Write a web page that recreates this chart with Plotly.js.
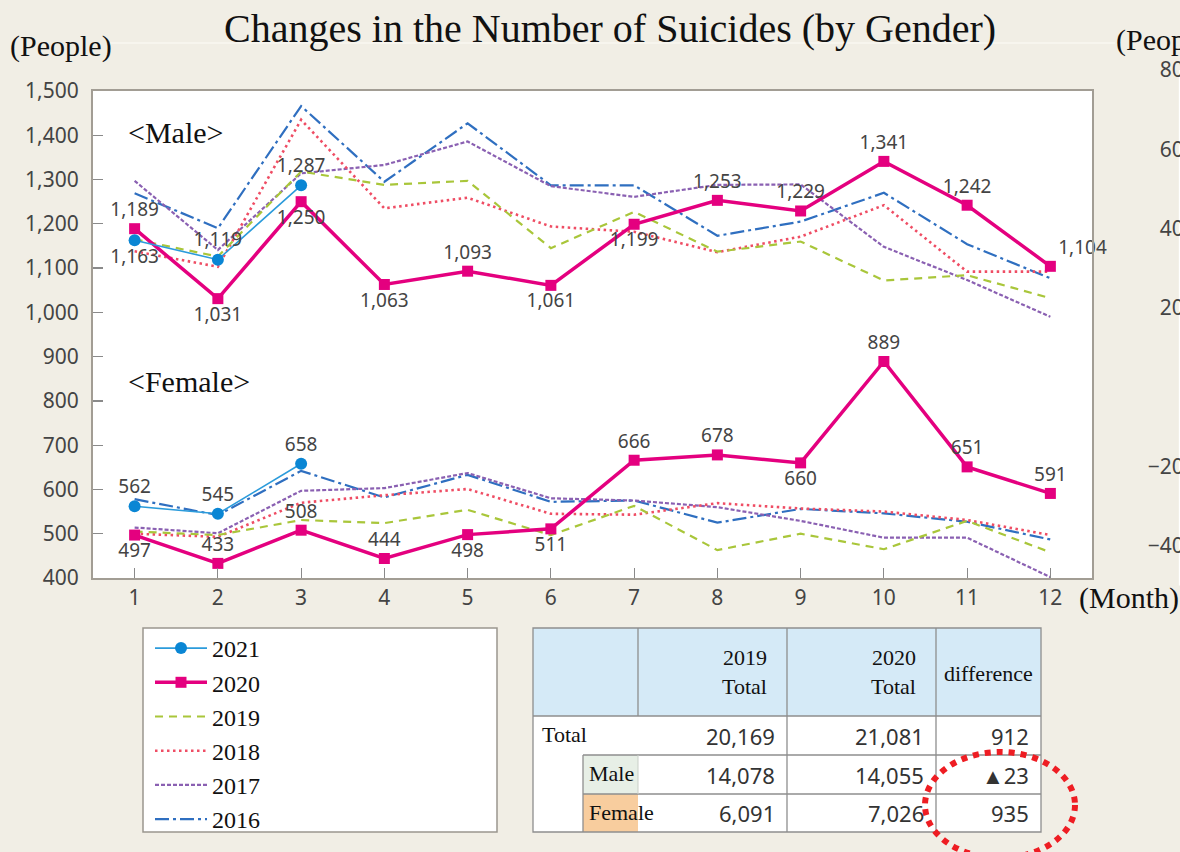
<!DOCTYPE html>
<html><head><meta charset="utf-8">
<script src="https://cdn.plot.ly/plotly-3.0.1.min.js"></script>
<style>html,body{margin:0;padding:0;background:#f1eee5;} #chart{width:1180px;height:852px;}</style>
</head><body><div id="chart"></div>
<script>
// ---------- data ----------
const months = [1,2,3,4,5,6,7,8,9,10,11,12];
const monthsQ1 = [1,2,3];

const male2021 = [1163,1119,1287];
const male2020 = [1189,1031,1250,1063,1093,1061,1199,1253,1229,1341,1242,1104];
const male2019 = [1165,1126,1318,1288,1297,1145,1227,1137,1160,1072,1084,1032];
const male2018 = [1138,1103,1435,1235,1259,1194,1182,1136,1171,1242,1092,1092];
const male2017 = [1297,1141,1314,1333,1386,1285,1261,1288,1289,1148,1073,990];
const male2016 = [1269,1190,1466,1295,1427,1287,1287,1173,1205,1270,1154,1077];

const female2021 = [562,545,658];
const female2020 = [497,433,508,444,498,511,666,678,660,889,651,591];
const female2019 = [505,497,531,524,554,497,563,463,500,465,529,458];
const female2018 = [500,493,570,587,601,545,543,569,557,550,531,497];
const female2017 = [514,501,597,603,637,580,575,560,529,491,491,402];
const female2016 = [578,542,642,582,633,572,575,525,556,546,527,487];

const rightAxisTicks = [80,60,40,20,-20,-40];

const tableHeaders = ['2019<br>Total','2020<br>Total','difference'];
const tableRowLabels = ['Total','Male','Female'];
const total2019 = [20169,14078,6091];
const total2020 = [21081,14055,7026];
const diffValues = [912,-23,935];

// ---------- styles ----------
const W = 1180, H = 852;
const px = x => x / W;
const py = y => 1 - y / H;
const SERIF = '"Liberation Serif","Times New Roman",serif';
const SANS = '"Noto Sans","Open Sans",sans-serif';
const LBL = '#444';

const male2020Pos = ['top center','bottom center','bottom center','bottom center','top center','bottom center','bottom center','top center','top center','top center','top center','top right'];
const male2021Pos = ['bottom center','top center','top center'];
const female2020Pos = ['bottom center','top center','top center','top center','bottom center','bottom center','top center','top center','bottom center','top center','top center','top center'];
const female2021Pos = ['top center','top center','top center'];

const oldYears = [
  {name:'2016', m:male2016, f:female2016, color:'#2f6fc0', width:2.2, dash:'14px,4px,3px,4px', rank:6},
  {name:'2017', m:male2017, f:female2017, color:'#8a60b2', width:2.2, dash:'4px,2px', rank:5},
  {name:'2018', m:male2018, f:female2018, color:'#ef4d64', width:2.6, dash:'2.5px,3.5px', rank:4},
  {name:'2019', m:male2019, f:female2019, color:'#a9c63a', width:2.2, dash:'8px,6px', rank:3}
];

const traces = [];
oldYears.forEach(s => {
  [['m', true], ['f', false]].forEach(([k, show]) => {
    traces.push({
      type:'scatter', mode:'lines', x:months, y:s[k], name:s.name,
      legendgroup:s.name, showlegend:show, legendrank:s.rank,
      line:{color:s.color, width:s.width, dash:s.dash}, hoverinfo:'skip'
    });
  });
});

[[male2020, male2020Pos, true], [female2020, female2020Pos, false]].forEach(([vals, pos, show]) => {
  traces.push({
    type:'scatter', mode:'lines+markers+text', x:months, y:vals, name:'2020',
    legendgroup:'2020', showlegend:show, legendrank:2,
    line:{color:'#e4007f', width:3.5},
    marker:{symbol:'square', size:11, color:'#e4007f'},
    texttemplate:'%{y:,}', textposition:pos, cliponaxis:false,
    textfont:{family:SANS, size:19, color:LBL}, hoverinfo:'skip'
  });
});

[[male2021, male2021Pos, true], [female2021, female2021Pos, false]].forEach(([vals, pos, show]) => {
  traces.push({
    type:'scatter', mode:'lines+markers+text', x:monthsQ1, y:vals, name:'2021',
    legendgroup:'2021', showlegend:show, legendrank:1,
    line:{color:'#2b9bdb', width:1.6},
    marker:{symbol:'circle', size:12, color:'#0a86d4'},
    texttemplate:'%{y:,}', textposition:pos, cliponaxis:false,
    textfont:{family:SANS, size:19, color:LBL}, hoverinfo:'skip'
  });
});

// invisible trace for the clipped right-hand axis
traces.push({type:'scatter', x:[], y:[], xaxis:'x2', yaxis:'y2', showlegend:false, hoverinfo:'skip'});

// ---------- table (shapes + annotations) ----------
const colX = [533, 638, 787, 936, 1041];
const rowY = [628, 716, 755, 794, 832];
const subX = 583;
const lineC = '#8e8e8e';

const shapes = [
  {type:'line', xref:'paper', yref:'paper', x0:px(110), x1:px(1115), y0:py(43), y1:py(43), line:{color:'#f9f7f1', width:1.5}, layer:'below'},
  // legend box
  {type:'rect', xref:'paper', yref:'paper', x0:px(143), x1:px(497), y0:py(832), y1:py(628), fillcolor:'#ffffff', line:{color:'#9a968e', width:1.5}, layer:'below'},
  // table backgrounds
  {type:'rect', xref:'paper', yref:'paper', x0:px(colX[0]), x1:px(colX[4]), y0:py(rowY[4]), y1:py(rowY[0]), fillcolor:'#ffffff', line:{width:0}, layer:'below'},
  {type:'rect', xref:'paper', yref:'paper', x0:px(colX[0]), x1:px(colX[4]), y0:py(rowY[1]), y1:py(rowY[0]), fillcolor:'#d5eaf7', line:{width:0}, layer:'below'},
  {type:'rect', xref:'paper', yref:'paper', x0:px(subX), x1:px(colX[1]), y0:py(rowY[3]), y1:py(rowY[2]), fillcolor:'#e7efe6', line:{width:0}, layer:'below'},
  {type:'rect', xref:'paper', yref:'paper', x0:px(subX), x1:px(colX[1]), y0:py(rowY[4]), y1:py(rowY[3]), fillcolor:'#f8cd9e', line:{width:0}, layer:'below'},
  // table borders
  {type:'rect', xref:'paper', yref:'paper', x0:px(colX[0]), x1:px(colX[4]), y0:py(rowY[4]), y1:py(rowY[0]), line:{color:lineC, width:1.3}, layer:'below'},
  {type:'line', xref:'paper', yref:'paper', x0:px(colX[0]), x1:px(colX[4]), y0:py(rowY[1]), y1:py(rowY[1]), line:{color:lineC, width:1.3}, layer:'below'},
  {type:'line', xref:'paper', yref:'paper', x0:px(subX), x1:px(colX[4]), y0:py(rowY[2]), y1:py(rowY[2]), line:{color:lineC, width:1.3}, layer:'below'},
  {type:'line', xref:'paper', yref:'paper', x0:px(subX), x1:px(colX[4]), y0:py(rowY[3]), y1:py(rowY[3]), line:{color:lineC, width:1.3}, layer:'below'},
  {type:'line', xref:'paper', yref:'paper', x0:px(subX), x1:px(subX), y0:py(rowY[4]), y1:py(rowY[2]), line:{color:lineC, width:1.3}, layer:'below'},
  {type:'line', xref:'paper', yref:'paper', x0:px(colX[1]), x1:px(colX[1]), y0:py(rowY[1]), y1:py(rowY[0]), line:{color:lineC, width:1.3}, layer:'below'},
  {type:'line', xref:'paper', yref:'paper', x0:px(colX[1]), x1:px(colX[1]), y0:py(rowY[3]), y1:py(rowY[2]), line:{color:'#c9cfc8', width:1}, layer:'below'},
  {type:'line', xref:'paper', yref:'paper', x0:px(colX[2]), x1:px(colX[2]), y0:py(rowY[4]), y1:py(rowY[0]), line:{color:lineC, width:1.3}, layer:'below'},
  {type:'line', xref:'paper', yref:'paper', x0:px(colX[3]), x1:px(colX[3]), y0:py(rowY[4]), y1:py(rowY[0]), line:{color:lineC, width:1.3}, layer:'below'},
  // red dotted ellipse
  {type:'circle', xref:'paper', yref:'paper', x0:px(925), x1:px(1075), y0:py(858), y1:py(752), line:{color:'#ee1d23', width:6, dash:'dot'}, layer:'above'}
];

const ann = (text, x, y, opts) => Object.assign({
  text, xref:'paper', yref:'paper', x:px(x), y:py(y), showarrow:false,
  xanchor:'left', yanchor:'middle', font:{family:SERIF, size:30, color:'#111'}
}, opts || {});

const annotations = [
  ann('(People)', 8, 46),
  ann('(People)', 1114, 40),
  ann('(Month)', 1077, 598),
  ann('&lt;Male&gt;', 126, 133),
  ann('&lt;Female&gt;', 126, 382)
];

// table header text
annotations.push(ann(tableHeaders[0], colX[2]-18, 672, {xanchor:'right', align:'right', font:{family:SERIF, size:22, color:'#111'}}));
annotations.push(ann(tableHeaders[1], colX[3]-18, 672, {xanchor:'right', align:'right', font:{family:SERIF, size:22, color:'#111'}}));
annotations.push(ann(tableHeaders[2], (colX[3]+colX[4])/2, 673, {xanchor:'center', font:{family:SERIF, size:22, color:'#111'}}));

const fmt = v => v < 0 ? '\u25B2' + Math.abs(v).toLocaleString('en-US') : v.toLocaleString('en-US');
tableRowLabels.forEach((lab, i) => {
  const yc = (rowY[i+1] + rowY[i+2]) / 2;
  annotations.push(ann(lab, i === 0 ? 540 : subX + 4, yc - 1, {font:{family:SERIF, size:22, color:'#111'}}));
  annotations.push(ann(fmt(total2019[i]), colX[2]-10, yc, {xanchor:'right', font:{family:SANS, size:22, color:'#333'}}));
  annotations.push(ann(fmt(total2020[i]), colX[3]-10, yc, {xanchor:'right', font:{family:SANS, size:22, color:'#333'}}));
  annotations.push(ann(fmt(diffValues[i]), colX[4]-10, yc, {xanchor:'right', font:{family:SANS, size:22, color:'#333'}}));
});

const layout = {
  width:W, height:H,
  margin:{l:0, r:0, t:0, b:0},
  paper_bgcolor:'#f1eee5', plot_bgcolor:'#ffffff',
  title:{text:'Changes in the Number of Suicides (by Gender)', x:0.517, xanchor:'center', y:py(28), yanchor:'middle',
         font:{family:SERIF, size:40, color:'#111'}},
  showlegend:true,
  legend:{x:px(150), y:py(626), xanchor:'left', yanchor:'top', bgcolor:'rgba(0,0,0,0)', borderwidth:0,
          font:{family:SERIF, size:24, color:'#111'}, itemwidth:52, tracegroupgap:0},
  xaxis:{domain:[px(93), px(1092)], range:[0.5, 12.5], tickvals:months, ticks:'inside', ticklen:10,
         tickcolor:'#8a8a8a', tickwidth:1.2, showline:true, mirror:true, linecolor:'#a29d94', linewidth:2,
         showgrid:false, zeroline:false, tickfont:{family:SANS, size:21, color:LBL}, anchor:'y'},
  yaxis:{domain:[py(578), py(91)], range:[400, 1500], tick0:400, dtick:100, tickformat:',d', ticks:'inside', ticklen:10,
         tickcolor:'#8a8a8a', tickwidth:1.2, showline:true, mirror:true, linecolor:'#a29d94', linewidth:2,
         showgrid:false, zeroline:false, tickfont:{family:SANS, size:21, color:LBL}, anchor:'x', ticklabelstandoff:8},
  xaxis2:{domain:[0.999, 1], visible:false, anchor:'y2', range:[0,1]},
  yaxis2:{domain:[py(585.5), py(70)], range:[-50, 80], tickvals:rightAxisTicks, anchor:'x2', side:'left',
          showline:false, showgrid:false, zeroline:false, ticks:'', tickfont:{family:SANS, size:21, color:LBL},
          ticklabelstandoff:-6},
  shapes, annotations
};

Plotly.newPlot('chart', traces, layout, {staticPlot:true, displayModeBar:false});
</script></body></html>
